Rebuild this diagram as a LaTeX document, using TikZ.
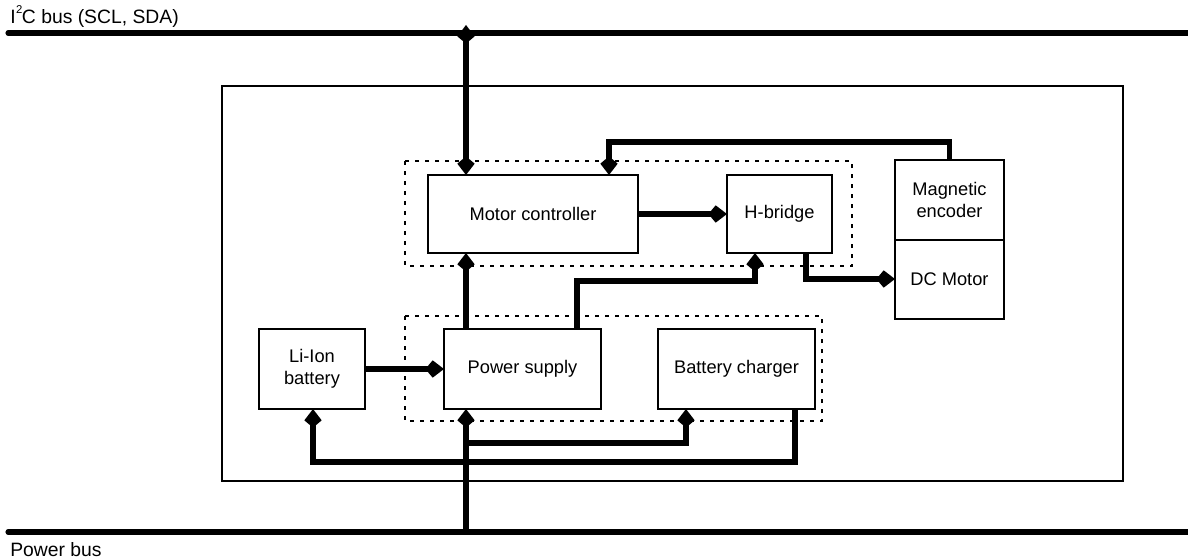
\documentclass[tikz,border=0pt]{standalone}
\usepackage{fontspec}
\setmainfont{Liberation Sans}
\usetikzlibrary{arrows.meta,fit,calc}
\begin{document}
\begin{tikzpicture}[x=0.75pt,y=-0.75pt,
  box/.style={draw,line width=1.2pt,inner sep=0pt,outer sep=0pt,align=center,
    font=\fontsize{13.7}{16.5}\selectfont},
  txt/.style={align=center,font=\fontsize{13.7}{16.5}\selectfont},
  conn/.style={line width=3.8pt},
  tip/.style={-{Kite[length=14pt,width=13pt,inset=5.5pt]}},
  dtip/.style={{Kite[length=14pt,width=13pt,inset=5.5pt]}-{Kite[length=14pt,width=13pt,inset=5.5pt]}},
  bus/.style={line width=3.8pt,line cap=round},
  grp/.style={draw,line width=1.3pt,dash pattern=on 3pt off 4.5pt},
  lbl/.style={anchor=base west,inner sep=0pt,font=\fontsize{14.5}{17}\selectfont}]
\useasboundingbox (0,0) rectangle (1188,560);

% buses
\coordinate (i2cL) at (8,33);
\coordinate (i2cR) at (1195,33);
\coordinate (pwL) at (8,532);
\coordinate (pwR) at (1195,532);
\draw[bus] (i2cL) -- (i2cR);
\draw[bus] (pwL) -- (pwR);
\node[lbl] (l1) at (10,24) {I\kern0.3pt\raisebox{1.05ex}{\fontsize{8.5}{9}\selectfont 2}\kern-0.3pt C bus (SCL, SDA)};
\node[lbl] (l2) at (10,556) {Power bus};

% frames
\draw[line width=1.1pt] (222,86) rectangle (1123,481);
\draw[grp] (405,161) rectangle (852,266);
\draw[grp] (405,316) rectangle (822,421);

% blocks
\node[box,fit={(428,175)(638,253)}] (mc) {};
\node[txt] at (mc.center) (mct) {Motor controller};
\node[box,fit={(727,175)(832,253)}] (hb) {};
\node[txt] at (hb.center) (hbt) {H-bridge};
\node[box,fit={(895,160)(1004,240)}] (enc) {};
\node[txt] at (enc.center) (enct) {Magnetic\\encoder};
\node[box,fit={(895,240)(1004,319)}] (dcm) {};
\node[txt] at (dcm.center) (dcmt) {DC Motor};
\node[box,fit={(259,329)(365,409)}] (li) {};
\node[txt] at (li.center) (lit) {Li-Ion\\battery};
\node[box,fit={(444,329)(601,409)}] (ps) {};
\node[txt] at (ps.center) (pst) {Power supply};
\node[box,fit={(658,329)(815,409)}] (bc) {};
\node[txt] at (bc.center) (bct) {Battery charger};

% connector points
\coordinate (i2cA) at (466,25);
\coordinate (pwA) at (466,532);
\coordinate (c1) at (609,142);
\coordinate (c2) at (577,281);
\coordinate (c3) at (755,281);
\coordinate (c4) at (806,279);
\coordinate (c5) at (466,443);
\coordinate (c6) at (686,443);
\coordinate (c7) at (795,462);
\coordinate (c8) at (313,462);

% connectors
\draw[conn,dtip] (i2cA) -- (i2cA |- mc.north);
\draw[conn,tip] (mc.east) -- (hb.west);
\draw[conn,tip] (enc.north) |- (c1) -- (c1 |- mc.north);
\draw[conn,tip] (pwA |- ps.north) -- (pwA |- mc.south);
\draw[conn,tip] (c2 |- ps.north) -- (c2) -- (c3) -- (c3 |- hb.south);
\draw[conn,tip] (c4 |- hb.south) -- (c4) -- (c4 -| dcm.west);
\draw[conn,tip] (li.east) -- (ps.west);
\draw[conn,tip] (pwA) -- (pwA |- ps.south);
\draw[conn,tip] (c5) -- (c6) -- (c6 |- bc.south);
\draw[conn,tip] (c7 |- bc.south) -- (c7) -- (c8) -- (c8 |- li.south);
\end{tikzpicture}
\end{document}
